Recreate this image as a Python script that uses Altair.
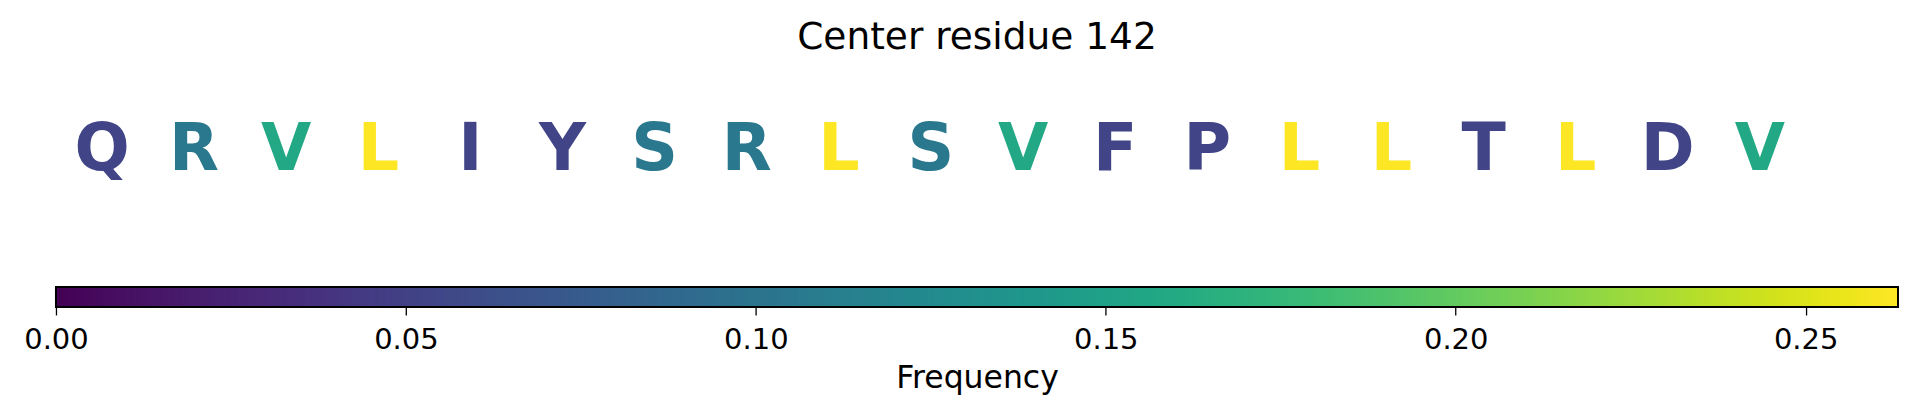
import altair as alt
import pandas as pd

# Residue window around position 142 and the frequency of each residue in it
TITLE = "Center residue 142"
RESIDUES = ["Q", "R", "V", "L", "I", "Y", "S", "R", "L", "S",
            "V", "F", "P", "L", "L", "T", "L", "D", "V"]
FREQUENCY = [0.0526, 0.1053, 0.1579, 0.2632, 0.0526, 0.0526, 0.1053, 0.1053, 0.2632, 0.1053,
             0.1579, 0.0526, 0.0526, 0.2632, 0.2632, 0.0526, 0.2632, 0.0526, 0.1579]
COLORBAR_TICKS = [0.00, 0.05, 0.10, 0.15, 0.20, 0.25]

FONT = "DejaVu Sans"
PANEL_WIDTH = 1843
fmax = max(FREQUENCY)

residues = pd.DataFrame({
    "pos": list(range(len(RESIDUES))),
    "residue": RESIDUES,
    "frequency": FREQUENCY,
})

color_scale = alt.Scale(scheme="viridis", domain=[0, fmax])

# Row of residue letters coloured by frequency
letters = (
    alt.Chart(residues)
    .mark_text(font=FONT, fontWeight="bold", fontSize=65, baseline="alphabetic", align="center")
    .encode(
        x=alt.X("pos:Q", scale=alt.Scale(domain=[-0.5, len(RESIDUES) + 0.5], nice=False, zero=False), axis=None),
        text="residue:N",
        color=alt.Color("frequency:Q", scale=color_scale, legend=None),
    )
    .properties(
        width=PANEL_WIDTH,
        height=214,
        title=alt.TitleParams(
            TITLE, font=FONT, fontSize=37.5, fontWeight="normal", color="black",
            anchor="middle", baseline="alphabetic", offset=-23,
        ),
    )
)

# Horizontal colorbar: thin cells along the frequency range, then a black outline
cells = (
    alt.Chart(alt.sequence(0, fmax, 0.0005, as_="f"))
    .transform_calculate(f2="datum.f + 0.0008", fc="datum.f + 0.00025")
    .mark_rect(clip=True)
    .encode(
        x=alt.X(
            "f:Q",
            scale=alt.Scale(domain=[0, fmax], nice=False, zero=True),
            axis=alt.Axis(
                values=COLORBAR_TICKS, format=".2f",
                labelFont=FONT, labelFontSize=29, labelColor="black",
                labelAlign="center", labelFlush=False, labelOverlap=False, labelPadding=11,
                tickColor="black", tickSize=8, tickWidth=1.3,
                domain=False, grid=False,
                title="Frequency", titleFont=FONT, titleFontSize=31.5,
                titleFontWeight="normal", titleColor="black", titlePadding=8,
            ),
        ),
        x2="f2:Q",
        color=alt.Color("fc:Q", scale=color_scale, legend=None),
    )
)

outline = (
    alt.Chart(pd.DataFrame({"lo": [0.0], "hi": [fmax]}))
    .mark_rect(fillOpacity=0, stroke="black", strokeWidth=2)
    .encode(x="lo:Q", x2="hi:Q")
)

colorbar = alt.layer(cells, outline).properties(width=PANEL_WIDTH, height=20)

chart = (
    alt.vconcat(letters, colorbar, spacing=9)
    .properties(padding={"left": 23, "top": 18, "right": 18, "bottom": 19}, background="white")
    .configure_view(strokeWidth=0)
)

chart.save("out.html", embed_options={"renderer": "svg", "actions": False})
